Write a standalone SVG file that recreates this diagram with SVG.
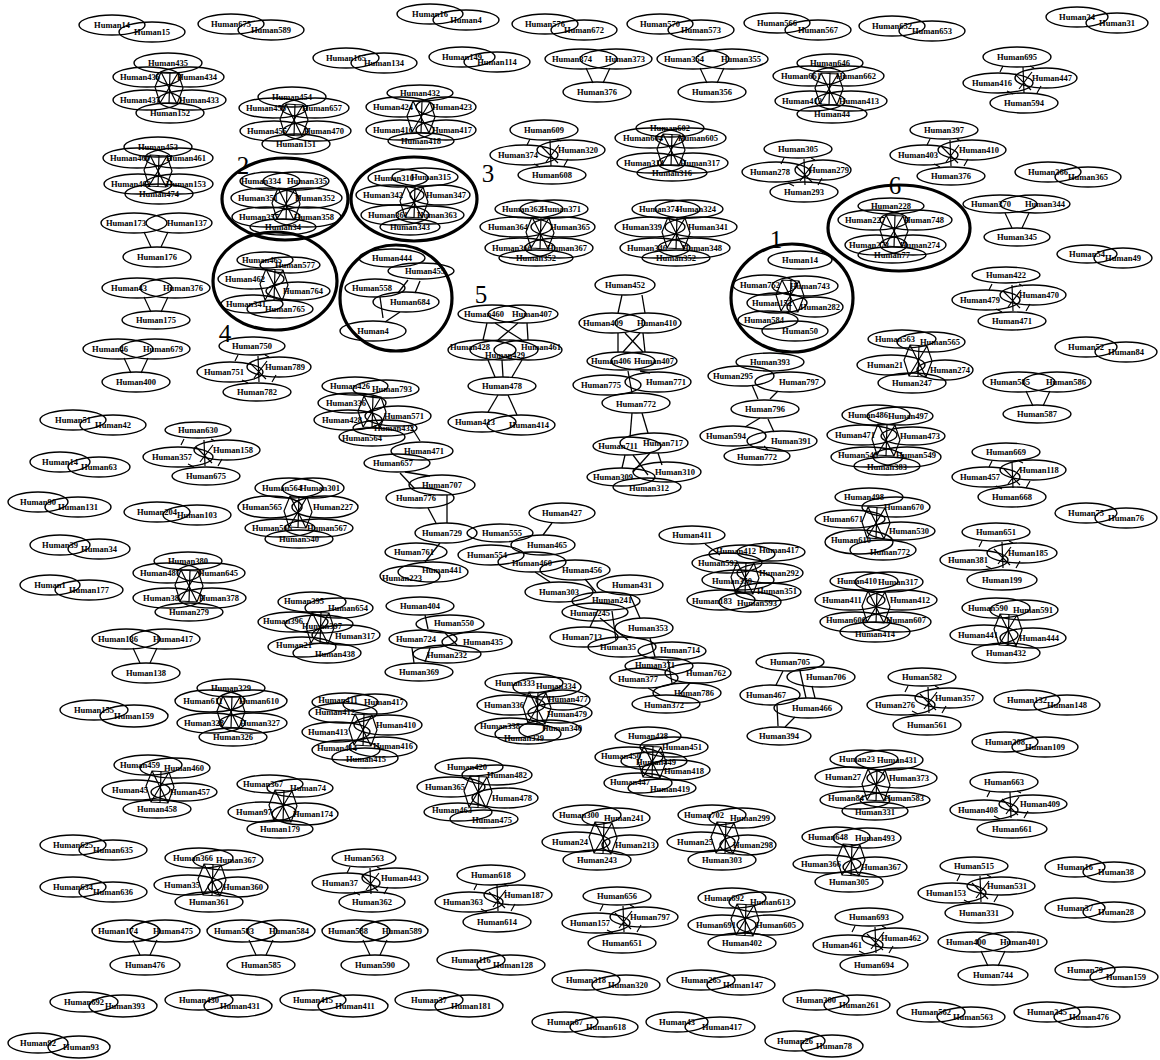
<svg xmlns="http://www.w3.org/2000/svg" xmlns:xlink="http://www.w3.org/1999/xlink" width="1160" height="1060" viewBox="0 0 1160 1060">
<style>
.n ellipse{fill:none;stroke:#000;stroke-width:1.4}
.n text{font-family:"Liberation Serif","Times New Roman",serif;font-size:8.5px;font-weight:bold;text-anchor:middle;fill:#000}
.e{fill:none;stroke:#000;stroke-width:1.2}
#connectors line{stroke:#000;stroke-width:1.3}
.ring{fill:none;stroke:#000;stroke-width:3.2}
.num{font-family:"Liberation Serif","Times New Roman",serif;font-size:25px;fill:#000;text-anchor:middle}
</style>
<defs>
<path id="tri" class="e" d="M-12,9 L-5,24 M12,9 L5,24"/>
<path id="dia" class="e" d="M-14,9 L-17,15 M13,9 L17,11 M6,10 L7,36 M-10,34 L-4,37 M24,29 L20,36 M-2,17 L14,33 M15,15 L2,32"/>
<path id="hub" class="e" d="M-8,-16 L9,-15 L14,0 L8,16 L-9,15 L-14,-1 Z M-8,-16 L8,16 M9,-15 L-9,15 M1,-16 L0,16"/>
</defs>
<rect width="1160" height="1060" fill="#fff"/>
<g id="connectors">
<use href="#tri" x="598" y="59"/><use href="#tri" x="712" y="59"/><use href="#tri" x="156" y="223"/><use href="#tri" x="156" y="288"/><use href="#tri" x="136" y="349"/><use href="#tri" x="1017" y="204"/><use href="#tri" x="1038" y="382"/><use href="#tri" x="145" y="639"/><use href="#tri" x="145" y="931"/><use href="#tri" x="261" y="931"/><use href="#tri" x="375" y="931"/><use href="#tri" x="993" y="942"/>
<use href="#dia" x="544" y="130"/><use href="#dia" x="1017" y="57"/><use href="#dia" x="798" y="149"/><use href="#dia" x="944" y="130"/><use href="#dia" x="252" y="346"/><use href="#dia" x="198" y="430"/><use href="#dia" x="922" y="677"/><use href="#dia" x="1004" y="782"/><use href="#dia" x="996" y="532"/><use href="#dia" x="1006" y="275"/><use href="#dia" x="1006" y="452"/><use href="#dia" x="364" y="858"/><use href="#dia" x="491" y="875"/><use href="#dia" x="617" y="896"/><use href="#dia" x="974" y="866"/><use href="#dia" x="869" y="917"/>
<use href="#hub" x="169" y="88"/><use href="#hub" x="294" y="120"/><use href="#hub" x="158" y="171"/><use href="#hub" x="421" y="117"/><use href="#hub" x="671" y="150"/><use href="#hub" x="540" y="233"/><use href="#hub" x="676" y="233"/><use href="#hub" x="829" y="89"/><use href="#hub" x="189" y="586"/><use href="#hub" x="231" y="712"/><use href="#hub" x="286" y="204"/><use href="#hub" x="414" y="202"/><use href="#hub" x="894" y="231"/><use href="#hub" x="274" y="285"/><use href="#hub" x="790" y="296"/><use href="#hub" x="298" y="512"/><use href="#hub" x="745" y="578"/><use href="#hub" x="537" y="708"/><use href="#hub" x="876" y="607"/><use href="#hub" x="876" y="523"/><use href="#hub" x="886" y="440"/><use href="#hub" x="363" y="730"/><use href="#hub" x="876" y="785"/><use href="#hub" x="320" y="628"/><use href="#hub" x="652" y="762"/><use href="#hub" x="160" y="787"/><use href="#hub" x="283" y="806"/><use href="#hub" x="372" y="412"/><use href="#hub" x="1008" y="630"/><use href="#hub" x="918" y="361"/><use href="#hub" x="851" y="860"/><use href="#hub" x="212" y="880"/><use href="#hub" x="603" y="838"/><use href="#hub" x="725" y="838"/><use href="#hub" x="745" y="920"/><use href="#hub" x="478" y="792"/>
<line x1="487" y1="323" x2="483" y2="340"/><line x1="527" y1="323" x2="528" y2="340"/><line x1="495" y1="323" x2="522" y2="340"/><line x1="518" y1="323" x2="498" y2="340"/><line x1="488" y1="360" x2="495" y2="377"/><line x1="502" y1="360" x2="503" y2="377"/><line x1="522" y1="360" x2="512" y2="377"/><line x1="498" y1="395" x2="488" y2="412"/><line x1="508" y1="395" x2="517" y2="415"/>
<line x1="622" y1="295" x2="618" y2="313"/><line x1="642" y1="295" x2="645" y2="313"/><line x1="618" y1="333" x2="618" y2="352"/><line x1="643" y1="333" x2="645" y2="352"/><line x1="625" y1="333" x2="643" y2="352"/><line x1="640" y1="333" x2="623" y2="352"/><line x1="628" y1="371" x2="632" y2="393"/><line x1="640" y1="371" x2="650" y2="373"/><line x1="632" y1="413" x2="630" y2="437"/><line x1="642" y1="413" x2="648" y2="433"/><line x1="625" y1="455" x2="622" y2="468"/><line x1="633" y1="455" x2="648" y2="475"/><line x1="650" y1="453" x2="633" y2="472"/><line x1="658" y1="453" x2="662" y2="465"/>
<line x1="410" y1="425" x2="420" y2="441"/><line x1="405" y1="472" x2="430" y2="476"/><line x1="400" y1="473" x2="415" y2="489"/><line x1="428" y1="508" x2="436" y2="523"/><line x1="447" y1="495" x2="447" y2="523"/>
<line x1="552" y1="523" x2="543" y2="535"/><line x1="440" y1="543" x2="425" y2="562"/><line x1="535" y1="572" x2="550" y2="582"/><line x1="585" y1="579" x2="596" y2="592"/><line x1="598" y1="610" x2="590" y2="627"/><line x1="612" y1="611" x2="616" y2="640"/><line x1="630" y1="595" x2="640" y2="618"/><line x1="600" y1="618" x2="628" y2="640"/><line x1="650" y1="638" x2="655" y2="657"/><line x1="668" y1="660" x2="672" y2="683"/><line x1="648" y1="688" x2="660" y2="695"/><line x1="690" y1="683" x2="680" y2="694"/>
<line x1="705" y1="544" x2="720" y2="555"/>
<line x1="425" y1="615" x2="428" y2="629"/><line x1="445" y1="633" x2="457" y2="645"/><line x1="430" y1="648" x2="425" y2="662"/><line x1="412" y1="648" x2="414" y2="663"/>
<line x1="800" y1="671" x2="806" y2="698"/><line x1="812" y1="686" x2="815" y2="698"/><line x1="783" y1="671" x2="776" y2="685"/><line x1="777" y1="705" x2="778" y2="726"/><line x1="795" y1="717" x2="785" y2="727"/>
<line x1="752" y1="385" x2="758" y2="399"/><line x1="778" y1="391" x2="770" y2="399"/><line x1="760" y1="418" x2="745" y2="427"/><line x1="768" y1="419" x2="774" y2="432"/><line x1="768" y1="450" x2="764" y2="446"/>
<line x1="408" y1="280" x2="398" y2="293"/><line x1="380" y1="297" x2="383" y2="318"/><line x1="400" y1="312" x2="385" y2="322"/><line x1="420" y1="281" x2="415" y2="293"/>
</g>
<g id="nodes">
<g id="c1a" class="n"><ellipse cx="112" cy="25" rx="33" ry="10"/><text x="112" y="28">Human14</text></g>
<g id="c1b" class="n"><ellipse cx="152" cy="32" rx="33" ry="10"/><text x="152" y="35">Human15</text></g>
<g id="c2a" class="n"><ellipse cx="231" cy="24" rx="33" ry="10"/><text x="231" y="27">Human675</text></g>
<g id="c2b" class="n"><ellipse cx="271" cy="30" rx="33" ry="10"/><text x="271" y="33">Human589</text></g>
<g id="c3a" class="n"><ellipse cx="346" cy="58" rx="33" ry="10"/><text x="346" y="61">Human165</text></g>
<g id="c3b" class="n"><ellipse cx="384" cy="63" rx="33" ry="10"/><text x="384" y="66">Human134</text></g>
<g id="c4a" class="n"><ellipse cx="430" cy="14" rx="33" ry="10"/><text x="430" y="17">Human16</text></g>
<g id="c4b" class="n"><ellipse cx="466" cy="20" rx="33" ry="10"/><text x="466" y="23">Human4</text></g>
<g id="c5a" class="n"><ellipse cx="462" cy="57" rx="33" ry="10"/><text x="462" y="60">Human149</text></g>
<g id="c5b" class="n"><ellipse cx="497" cy="62" rx="33" ry="10"/><text x="497" y="65">Human114</text></g>
<g id="c6a" class="n"><ellipse cx="545" cy="24" rx="33" ry="10"/><text x="545" y="27">Human576</text></g>
<g id="c6b" class="n"><ellipse cx="584" cy="30" rx="33" ry="10"/><text x="584" y="33">Human672</text></g>
<g id="c7a" class="n"><ellipse cx="660" cy="24" rx="33" ry="10"/><text x="660" y="27">Human570</text></g>
<g id="c7b" class="n"><ellipse cx="701" cy="30" rx="33" ry="10"/><text x="701" y="33">Human573</text></g>
<g id="c8a" class="n"><ellipse cx="777" cy="23" rx="33" ry="10"/><text x="777" y="26">Human566</text></g>
<g id="c8b" class="n"><ellipse cx="818" cy="30" rx="33" ry="10"/><text x="818" y="33">Human567</text></g>
<g id="c9a" class="n"><ellipse cx="892" cy="26" rx="33" ry="10"/><text x="892" y="29">Human652</text></g>
<g id="c9b" class="n"><ellipse cx="932" cy="31" rx="33" ry="10"/><text x="932" y="34">Human653</text></g>
<g id="c10a" class="n"><ellipse cx="1077" cy="17" rx="31" ry="10"/><text x="1077" y="20">Human34</text></g>
<g id="c10b" class="n"><ellipse cx="1117" cy="23" rx="31" ry="10"/><text x="1117" y="26">Human31</text></g>
<g id="c11a" class="n"><ellipse cx="581" cy="59" rx="36" ry="10"/><text x="572" y="62">Human374</text></g>
<g id="c11b" class="n"><ellipse cx="616" cy="59" rx="36" ry="10"/><text x="625" y="62">Human373</text></g>
<g id="c11c" class="n"><ellipse cx="597" cy="92" rx="34" ry="10"/><text x="597" y="95">Human376</text></g>
<g id="c12a" class="n"><ellipse cx="693" cy="59" rx="36" ry="10"/><text x="684" y="62">Human354</text></g>
<g id="c12b" class="n"><ellipse cx="732" cy="59" rx="36" ry="10"/><text x="741" y="62">Human355</text></g>
<g id="c12c" class="n"><ellipse cx="712" cy="92" rx="34" ry="10"/><text x="712" y="95">Human356</text></g>
<g id="c13a" class="n"><ellipse cx="168" cy="63" rx="34" ry="10"/><text x="168" y="66">Human435</text></g>
<g id="c13b" class="n"><ellipse cx="147" cy="77" rx="34" ry="10"/><text x="140" y="80">Human436</text></g>
<g id="c13c" class="n"><ellipse cx="190" cy="77" rx="34" ry="10"/><text x="197" y="80">Human434</text></g>
<g id="c13d" class="n"><ellipse cx="147" cy="100" rx="34" ry="10"/><text x="140" y="103">Human437</text></g>
<g id="c13e" class="n"><ellipse cx="192" cy="100" rx="34" ry="10"/><text x="199" y="103">Human433</text></g>
<g id="c13f" class="n"><ellipse cx="170" cy="113" rx="34" ry="10"/><text x="170" y="116">Human152</text></g>
<g id="c14a" class="n"><ellipse cx="292" cy="97" rx="34" ry="10"/><text x="292" y="100">Human454</text></g>
<g id="c14b" class="n"><ellipse cx="273" cy="108" rx="34" ry="10"/><text x="266" y="111">Human456</text></g>
<g id="c14c" class="n"><ellipse cx="315" cy="108" rx="34" ry="10"/><text x="322" y="111">Human657</text></g>
<g id="c14d" class="n"><ellipse cx="274" cy="131" rx="34" ry="10"/><text x="267" y="134">Human455</text></g>
<g id="c14e" class="n"><ellipse cx="317" cy="131" rx="34" ry="10"/><text x="324" y="134">Human470</text></g>
<g id="c14f" class="n"><ellipse cx="296" cy="144" rx="34" ry="10"/><text x="296" y="147">Human151</text></g>
<g id="c15a" class="n"><ellipse cx="158" cy="147" rx="34" ry="10"/><text x="158" y="150">Human453</text></g>
<g id="c15b" class="n"><ellipse cx="137" cy="158" rx="34" ry="10"/><text x="130" y="161">Human460</text></g>
<g id="c15c" class="n"><ellipse cx="179" cy="158" rx="34" ry="10"/><text x="186" y="161">Human461</text></g>
<g id="c15d" class="n"><ellipse cx="138" cy="184" rx="34" ry="10"/><text x="131" y="187">Human462</text></g>
<g id="c15e" class="n"><ellipse cx="179" cy="184" rx="34" ry="10"/><text x="186" y="187">Human153</text></g>
<g id="c15f" class="n"><ellipse cx="159" cy="194" rx="34" ry="10"/><text x="159" y="197">Human474</text></g>
<g id="c16a" class="n"><ellipse cx="134" cy="223" rx="33" ry="10"/><text x="126" y="226">Human173</text></g>
<g id="c16b" class="n"><ellipse cx="179" cy="223" rx="33" ry="10"/><text x="187" y="226">Human137</text></g>
<g id="c16c" class="n"><ellipse cx="157" cy="257" rx="34" ry="10"/><text x="157" y="260">Human176</text></g>
<g id="c17a" class="n"><ellipse cx="137" cy="288" rx="35" ry="10"/><text x="129" y="291">Human43</text></g>
<g id="c17b" class="n"><ellipse cx="175" cy="288" rx="35" ry="10"/><text x="183" y="291">Human376</text></g>
<g id="c17c" class="n"><ellipse cx="156" cy="320" rx="34" ry="9"/><text x="156" y="323">Human175</text></g>
<g id="c18a" class="n"><ellipse cx="118" cy="349" rx="35" ry="10"/><text x="110" y="352">Human46</text></g>
<g id="c18b" class="n"><ellipse cx="155" cy="349" rx="35" ry="10"/><text x="163" y="352">Human679</text></g>
<g id="c18c" class="n"><ellipse cx="136" cy="382" rx="34" ry="10"/><text x="136" y="385">Human400</text></g>
<g id="c19a" class="n"><ellipse cx="270" cy="181" rx="30" ry="9"/><text x="261" y="184">Human334</text></g>
<g id="c19b" class="n"><ellipse cx="296" cy="181" rx="33" ry="9"/><text x="307" y="184">Human335</text></g>
<g id="c19c" class="n"><ellipse cx="265" cy="198" rx="34" ry="10"/><text x="258" y="201">Human351</text></g>
<g id="c19d" class="n"><ellipse cx="308" cy="198" rx="34" ry="10"/><text x="315" y="201">Human352</text></g>
<g id="c19e" class="n"><ellipse cx="266" cy="217" rx="34" ry="10"/><text x="259" y="220">Human357</text></g>
<g id="c19f" class="n"><ellipse cx="307" cy="217" rx="34" ry="10"/><text x="314" y="220">Human358</text></g>
<g id="c19g" class="n"><ellipse cx="283" cy="227" rx="33" ry="8"/><text x="283" y="230">Human34</text></g>
<g id="c20a" class="n"><ellipse cx="398" cy="178" rx="30" ry="9"/><text x="394" y="181">Human310</text></g>
<g id="c20b" class="n"><ellipse cx="425" cy="177" rx="33" ry="9"/><text x="431" y="180">Human315</text></g>
<g id="c20c" class="n"><ellipse cx="390" cy="195" rx="34" ry="10"/><text x="383" y="198">Human342</text></g>
<g id="c20d" class="n"><ellipse cx="440" cy="195" rx="30" ry="10"/><text x="446" y="198">Human347</text></g>
<g id="c20e" class="n"><ellipse cx="395" cy="215" rx="34" ry="10"/><text x="388" y="218">Human361</text></g>
<g id="c20f" class="n"><ellipse cx="430" cy="215" rx="34" ry="9"/><text x="437" y="218">Human363</text></g>
<g id="c20g" class="n"><ellipse cx="410" cy="227" rx="30" ry="8"/><text x="410" y="230">Human343</text></g>
<g id="c21a" class="n"><ellipse cx="420" cy="93" rx="33" ry="8"/><text x="420" y="96">Human432</text></g>
<g id="c21b" class="n"><ellipse cx="400" cy="107" rx="34" ry="10"/><text x="393" y="110">Human424</text></g>
<g id="c21c" class="n"><ellipse cx="446" cy="107" rx="30" ry="10"/><text x="452" y="110">Human423</text></g>
<g id="c21d" class="n"><ellipse cx="400" cy="130" rx="34" ry="10"/><text x="393" y="133">Human416</text></g>
<g id="c21e" class="n"><ellipse cx="446" cy="130" rx="30" ry="10"/><text x="452" y="133">Human417</text></g>
<g id="c21f" class="n"><ellipse cx="421" cy="141" rx="33" ry="8"/><text x="421" y="144">Human418</text></g>
<g id="c22a" class="n"><ellipse cx="544" cy="130" rx="34" ry="10"/><text x="544" y="133">Human609</text></g>
<g id="c22b" class="n"><ellipse cx="524" cy="155" rx="34" ry="10"/><text x="518" y="158">Human374</text></g>
<g id="c22c" class="n"><ellipse cx="571" cy="150" rx="34" ry="10"/><text x="578" y="153">Human320</text></g>
<g id="c22d" class="n"><ellipse cx="552" cy="175" rx="34" ry="9"/><text x="552" y="178">Human608</text></g>
<g id="c23a" class="n"><ellipse cx="670" cy="128" rx="34" ry="9"/><text x="670" y="131">Human602</text></g>
<g id="c23b" class="n"><ellipse cx="650" cy="138" rx="35" ry="10"/><text x="643" y="141">Human604</text></g>
<g id="c23c" class="n"><ellipse cx="691" cy="138" rx="35" ry="10"/><text x="698" y="141">Human605</text></g>
<g id="c23d" class="n"><ellipse cx="651" cy="163" rx="34" ry="10"/><text x="644" y="166">Human314</text></g>
<g id="c23e" class="n"><ellipse cx="693" cy="163" rx="35" ry="10"/><text x="700" y="166">Human317</text></g>
<g id="c23f" class="n"><ellipse cx="672" cy="173" rx="35" ry="8"/><text x="672" y="176">Human316</text></g>
<g id="c24a" class="n"><ellipse cx="529" cy="209" rx="34" ry="9"/><text x="522" y="212">Human362</text></g>
<g id="c24b" class="n"><ellipse cx="554" cy="209" rx="34" ry="9"/><text x="561" y="212">Human371</text></g>
<g id="c24c" class="n"><ellipse cx="516" cy="227" rx="36" ry="10"/><text x="508" y="230">Human364</text></g>
<g id="c24d" class="n"><ellipse cx="563" cy="227" rx="32" ry="10"/><text x="570" y="230">Human365</text></g>
<g id="c24e" class="n"><ellipse cx="520" cy="248" rx="35" ry="10"/><text x="512" y="251">Human366</text></g>
<g id="c24f" class="n"><ellipse cx="559" cy="248" rx="34" ry="10"/><text x="567" y="251">Human367</text></g>
<g id="c24g" class="n"><ellipse cx="536" cy="258" rx="37" ry="8"/><text x="536" y="261">Human352</text></g>
<g id="c25a" class="n"><ellipse cx="666" cy="209" rx="34" ry="9"/><text x="659" y="212">Human374</text></g>
<g id="c25b" class="n"><ellipse cx="689" cy="209" rx="34" ry="9"/><text x="696" y="212">Human324</text></g>
<g id="c25c" class="n"><ellipse cx="650" cy="227" rx="35" ry="10"/><text x="642" y="230">Human339</text></g>
<g id="c25d" class="n"><ellipse cx="701" cy="227" rx="36" ry="10"/><text x="708" y="230">Human341</text></g>
<g id="c25e" class="n"><ellipse cx="655" cy="248" rx="35" ry="10"/><text x="647" y="251">Human346</text></g>
<g id="c25f" class="n"><ellipse cx="694" cy="248" rx="36" ry="10"/><text x="702" y="251">Human348</text></g>
<g id="c25g" class="n"><ellipse cx="676" cy="258" rx="34" ry="8"/><text x="676" y="261">Human352</text></g>
<g id="c26a" class="n"><ellipse cx="830" cy="63" rx="33" ry="9"/><text x="830" y="66">Human646</text></g>
<g id="c26b" class="n"><ellipse cx="809" cy="76" rx="36" ry="10"/><text x="801" y="79">Human661</text></g>
<g id="c26c" class="n"><ellipse cx="848" cy="76" rx="36" ry="10"/><text x="856" y="79">Human662</text></g>
<g id="c26d" class="n"><ellipse cx="810" cy="101" rx="35" ry="10"/><text x="802" y="104">Human412</text></g>
<g id="c26e" class="n"><ellipse cx="851" cy="101" rx="36" ry="10"/><text x="859" y="104">Human413</text></g>
<g id="c26f" class="n"><ellipse cx="832" cy="114" rx="35" ry="9"/><text x="832" y="117">Human44</text></g>
<g id="c27a" class="n"><ellipse cx="1017" cy="57" rx="34" ry="10"/><text x="1017" y="60">Human695</text></g>
<g id="c27b" class="n"><ellipse cx="998" cy="83" rx="35" ry="10"/><text x="992" y="86">Human416</text></g>
<g id="c27c" class="n"><ellipse cx="1046" cy="78" rx="31" ry="10"/><text x="1052" y="81">Human447</text></g>
<g id="c27d" class="n"><ellipse cx="1024" cy="103" rx="34" ry="10"/><text x="1024" y="106">Human594</text></g>
<g id="c28a" class="n"><ellipse cx="798" cy="149" rx="34" ry="9"/><text x="798" y="152">Human305</text></g>
<g id="c28b" class="n"><ellipse cx="776" cy="172" rx="34" ry="10"/><text x="770" y="175">Human278</text></g>
<g id="c28c" class="n"><ellipse cx="823" cy="170" rx="28" ry="10"/><text x="829" y="173">Human279</text></g>
<g id="c28d" class="n"><ellipse cx="804" cy="192" rx="34" ry="10"/><text x="804" y="195">Human293</text></g>
<g id="c29a" class="n"><ellipse cx="944" cy="130" rx="34" ry="9"/><text x="944" y="133">Human397</text></g>
<g id="c29b" class="n"><ellipse cx="924" cy="155" rx="34" ry="10"/><text x="918" y="158">Human403</text></g>
<g id="c29c" class="n"><ellipse cx="972" cy="150" rx="34" ry="10"/><text x="979" y="153">Human410</text></g>
<g id="c29d" class="n"><ellipse cx="951" cy="176" rx="34" ry="9"/><text x="951" y="179">Human376</text></g>
<g id="c30a" class="n"><ellipse cx="1048" cy="172" rx="33" ry="10"/><text x="1048" y="175">Human366</text></g>
<g id="c30b" class="n"><ellipse cx="1088" cy="177" rx="33" ry="10"/><text x="1088" y="180">Human365</text></g>
<g id="c31a" class="n"><ellipse cx="1000" cy="204" rx="37" ry="9"/><text x="991" y="207">Human370</text></g>
<g id="c31b" class="n"><ellipse cx="1035" cy="204" rx="35" ry="9"/><text x="1045" y="207">Human344</text></g>
<g id="c31c" class="n"><ellipse cx="1017" cy="237" rx="33" ry="9"/><text x="1017" y="240">Human345</text></g>
<g id="c32a" class="n"><ellipse cx="1087" cy="254" rx="30" ry="9"/><text x="1087" y="257">Human54</text></g>
<g id="c32b" class="n"><ellipse cx="1123" cy="258" rx="29" ry="10"/><text x="1123" y="261">Human49</text></g>
<g id="c33a" class="n"><ellipse cx="891" cy="206" rx="33" ry="8"/><text x="891" y="209">Human228</text></g>
<g id="c33b" class="n"><ellipse cx="873" cy="220" rx="35" ry="10"/><text x="865" y="223">Human227</text></g>
<g id="c33c" class="n"><ellipse cx="916" cy="220" rx="36" ry="10"/><text x="924" y="223">Human748</text></g>
<g id="c33d" class="n"><ellipse cx="876" cy="245" rx="31" ry="10"/><text x="869" y="248">Human273</text></g>
<g id="c33e" class="n"><ellipse cx="913" cy="245" rx="33" ry="10"/><text x="920" y="248">Human274</text></g>
<g id="c33f" class="n"><ellipse cx="892" cy="255" rx="34" ry="8"/><text x="892" y="258">Human77</text></g>
<g id="c34a" class="n"><ellipse cx="800" cy="260" rx="32" ry="9"/><text x="800" y="263">Human14</text></g>
<g id="c34b" class="n"><ellipse cx="765" cy="285" rx="32" ry="10"/><text x="760" y="288">Human752</text></g>
<g id="c34c" class="n"><ellipse cx="805" cy="286" rx="33" ry="10"/><text x="810" y="289">Human743</text></g>
<g id="c34d" class="n"><ellipse cx="777" cy="303" rx="30" ry="10"/><text x="772" y="306">Human152</text></g>
<g id="c34e" class="n"><ellipse cx="815" cy="307" rx="28" ry="10"/><text x="820" y="310">Human282</text></g>
<g id="c34f" class="n"><ellipse cx="768" cy="320" rx="30" ry="9"/><text x="764" y="323">Human584</text></g>
<g id="c34g" class="n"><ellipse cx="795" cy="331" rx="33" ry="10"/><text x="800" y="334">Human50</text></g>
<g id="c36a" class="n"><ellipse cx="265" cy="260" rx="28" ry="8"/><text x="262" y="263">Human465</text></g>
<g id="c36b" class="n"><ellipse cx="290" cy="265" rx="30" ry="8"/><text x="295" y="268">Human577</text></g>
<g id="c36c" class="n"><ellipse cx="251" cy="279" rx="33" ry="10"/><text x="245" y="282">Human462</text></g>
<g id="c36d" class="n"><ellipse cx="298" cy="291" rx="32" ry="9"/><text x="303" y="294">Human764</text></g>
<g id="c36e" class="n"><ellipse cx="252" cy="304" rx="31" ry="9"/><text x="246" y="307">Human341</text></g>
<g id="c36f" class="n"><ellipse cx="280" cy="309" rx="33" ry="9"/><text x="285" y="312">Human765</text></g>
<g id="c37a" class="n"><ellipse cx="392" cy="258" rx="33" ry="9"/><text x="392" y="261">Human444</text></g>
<g id="c37b" class="n"><ellipse cx="421" cy="271" rx="33" ry="8"/><text x="425" y="274">Human455</text></g>
<g id="c37c" class="n"><ellipse cx="375" cy="288" rx="30" ry="9"/><text x="372" y="291">Human558</text></g>
<g id="c37d" class="n"><ellipse cx="406" cy="302" rx="33" ry="10"/><text x="410" y="305">Human684</text></g>
<g id="c37e" class="n"><ellipse cx="373" cy="331" rx="33" ry="10"/><text x="373" y="334">Human4</text></g>
<g id="c38a" class="n"><ellipse cx="252" cy="346" rx="33" ry="9"/><text x="252" y="349">Human750</text></g>
<g id="c38b" class="n"><ellipse cx="230" cy="372" rx="33" ry="10"/><text x="224" y="375">Human751</text></g>
<g id="c38c" class="n"><ellipse cx="279" cy="367" rx="32" ry="10"/><text x="285" y="370">Human789</text></g>
<g id="c38d" class="n"><ellipse cx="257" cy="392" rx="34" ry="9"/><text x="257" y="395">Human782</text></g>
<g id="c39a" class="n"><ellipse cx="73" cy="420" rx="33" ry="10"/><text x="73" y="423">Human51</text></g>
<g id="c39b" class="n"><ellipse cx="113" cy="425" rx="33" ry="10"/><text x="113" y="428">Human42</text></g>
<g id="c40a" class="n"><ellipse cx="198" cy="430" rx="33" ry="8"/><text x="198" y="433">Human630</text></g>
<g id="c40b" class="n"><ellipse cx="178" cy="457" rx="35" ry="10"/><text x="172" y="460">Human357</text></g>
<g id="c40c" class="n"><ellipse cx="227" cy="450" rx="33" ry="10"/><text x="233" y="453">Human158</text></g>
<g id="c40d" class="n"><ellipse cx="206" cy="476" rx="34" ry="9"/><text x="206" y="479">Human675</text></g>
<g id="c41a" class="n"><ellipse cx="60" cy="462" rx="30" ry="10"/><text x="60" y="465">Human14</text></g>
<g id="c41b" class="n"><ellipse cx="99" cy="467" rx="31" ry="10"/><text x="99" y="470">Human63</text></g>
<g id="c42a" class="n"><ellipse cx="38" cy="502" rx="30" ry="10"/><text x="38" y="505">Human90</text></g>
<g id="c42b" class="n"><ellipse cx="78" cy="507" rx="33" ry="10"/><text x="78" y="510">Human131</text></g>
<g id="c43a" class="n"><ellipse cx="157" cy="512" rx="33" ry="10"/><text x="157" y="515">Human204</text></g>
<g id="c43b" class="n"><ellipse cx="197" cy="515" rx="34" ry="10"/><text x="197" y="518">Human103</text></g>
<g id="c44a" class="n"><ellipse cx="289" cy="488" rx="34" ry="10"/><text x="282" y="491">Human564</text></g>
<g id="c44b" class="n"><ellipse cx="313" cy="488" rx="31" ry="10"/><text x="320" y="491">Human301</text></g>
<g id="c44c" class="n"><ellipse cx="270" cy="507" rx="32" ry="11"/><text x="262" y="510">Human565</text></g>
<g id="c44d" class="n"><ellipse cx="325" cy="507" rx="33" ry="11"/><text x="333" y="510">Human227</text></g>
<g id="c44e" class="n"><ellipse cx="280" cy="528" rx="35" ry="9"/><text x="272" y="531">Human566</text></g>
<g id="c44f" class="n"><ellipse cx="319" cy="528" rx="34" ry="9"/><text x="327" y="531">Human567</text></g>
<g id="c44g" class="n"><ellipse cx="299" cy="539" rx="34" ry="9"/><text x="299" y="542">Human540</text></g>
<g id="c45a" class="n"><ellipse cx="355" cy="386" rx="33" ry="9"/><text x="350" y="389">Human426</text></g>
<g id="c45b" class="n"><ellipse cx="386" cy="389" rx="33" ry="9"/><text x="392" y="392">Human793</text></g>
<g id="c45c" class="n"><ellipse cx="352" cy="403" rx="34" ry="10"/><text x="346" y="406">Human336</text></g>
<g id="c45d" class="n"><ellipse cx="398" cy="416" rx="33" ry="10"/><text x="404" y="419">Human571</text></g>
<g id="c45e" class="n"><ellipse cx="348" cy="420" rx="34" ry="10"/><text x="342" y="423">Human428</text></g>
<g id="c45f" class="n"><ellipse cx="385" cy="428" rx="32" ry="8"/><text x="394" y="431">Human432</text></g>
<g id="c45g" class="n"><ellipse cx="372" cy="437" rx="33" ry="9"/><text x="362" y="441">Human564</text></g>
<g id="c45h" class="n"><ellipse cx="422" cy="451" rx="31" ry="9"/><text x="424" y="454">Human471</text></g>
<g id="c45i" class="n"><ellipse cx="397" cy="463" rx="33" ry="9"/><text x="393" y="466">Human657</text></g>
<g id="c45j" class="n"><ellipse cx="442" cy="485" rx="33" ry="10"/><text x="442" y="488">Human707</text></g>
<g id="c45k" class="n"><ellipse cx="420" cy="498" rx="34" ry="10"/><text x="416" y="501">Human776</text></g>
<g id="c46a" class="n"><ellipse cx="446" cy="533" rx="31" ry="10"/><text x="442" y="536">Human729</text></g>
<g id="c46b" class="n"><ellipse cx="500" cy="533" rx="33" ry="9"/><text x="502" y="536">Human555</text></g>
<g id="c46c" class="n"><ellipse cx="562" cy="513" rx="33" ry="10"/><text x="562" y="516">Human427</text></g>
<g id="c46d" class="n"><ellipse cx="416" cy="552" rx="31" ry="9"/><text x="414" y="555">Human761</text></g>
<g id="c46e" class="n"><ellipse cx="433" cy="572" rx="35" ry="10"/><text x="442" y="573">Human441</text></g>
<g id="c46f" class="n"><ellipse cx="410" cy="576" rx="30" ry="10"/><text x="402" y="581">Human223</text></g>
<g id="c46g" class="n"><ellipse cx="543" cy="545" rx="32" ry="10"/><text x="547" y="548">Human465</text></g>
<g id="c46h" class="n"><ellipse cx="491" cy="555" rx="33" ry="10"/><text x="487" y="558">Human554</text></g>
<g id="c46i" class="n"><ellipse cx="532" cy="562" rx="34" ry="10"/><text x="532" y="566">Human460</text></g>
<g id="c46j" class="n"><ellipse cx="575" cy="570" rx="35" ry="10"/><text x="582" y="573">Human456</text></g>
<g id="c46k" class="n"><ellipse cx="559" cy="592" rx="34" ry="10"/><text x="559" y="595">Human303</text></g>
<g id="c46l" class="n"><ellipse cx="630" cy="585" rx="33" ry="10"/><text x="632" y="588">Human431</text></g>
<g id="c46m" class="n"><ellipse cx="606" cy="601" rx="34" ry="9"/><text x="612" y="603">Human241</text></g>
<g id="c46n" class="n"><ellipse cx="595" cy="612" rx="33" ry="9"/><text x="590" y="616">Human245</text></g>
<g id="c46o" class="n"><ellipse cx="584" cy="637" rx="34" ry="10"/><text x="582" y="640">Human713</text></g>
<g id="c46p" class="n"><ellipse cx="644" cy="628" rx="29" ry="10"/><text x="648" y="631">Human353</text></g>
<g id="c46q" class="n"><ellipse cx="622" cy="647" rx="34" ry="10"/><text x="618" y="650">Human35</text></g>
<g id="c46r" class="n"><ellipse cx="672" cy="651" rx="34" ry="9"/><text x="680" y="653">Human714</text></g>
<g id="c46s" class="n"><ellipse cx="659" cy="666" rx="34" ry="9"/><text x="655" y="668">Human371</text></g>
<g id="c46t" class="n"><ellipse cx="698" cy="673" rx="33" ry="10"/><text x="706" y="676">Human762</text></g>
<g id="c46u" class="n"><ellipse cx="644" cy="678" rx="34" ry="10"/><text x="638" y="682">Human377</text></g>
<g id="c46v" class="n"><ellipse cx="687" cy="693" rx="34" ry="10"/><text x="694" y="696">Human786</text></g>
<g id="c46w" class="n"><ellipse cx="666" cy="704" rx="34" ry="9"/><text x="664" y="708">Human372</text></g>
<g id="c47a" class="n"><ellipse cx="692" cy="535" rx="33" ry="9"/><text x="692" y="538">Human411</text></g>
<g id="c47b" class="n"><ellipse cx="742" cy="554" rx="33" ry="9"/><text x="736" y="554">Human412</text></g>
<g id="c47c" class="n"><ellipse cx="771" cy="552" rx="34" ry="9"/><text x="779" y="553">Human417</text></g>
<g id="c47d" class="n"><ellipse cx="727" cy="563" rx="35" ry="10"/><text x="718" y="566">Human592</text></g>
<g id="c47e" class="n"><ellipse cx="770" cy="573" rx="33" ry="10"/><text x="779" y="576">Human292</text></g>
<g id="c47f" class="n"><ellipse cx="738" cy="580" rx="36" ry="10"/><text x="732" y="584">Human350</text></g>
<g id="c47g" class="n"><ellipse cx="768" cy="592" rx="33" ry="9"/><text x="777" y="594">Human351</text></g>
<g id="c47h" class="n"><ellipse cx="721" cy="600" rx="34" ry="10"/><text x="712" y="604">Human183</text></g>
<g id="c47i" class="n"><ellipse cx="750" cy="602" rx="31" ry="10"/><text x="757" y="606">Human593</text></g>
<g id="c48a" class="n"><ellipse cx="420" cy="606" rx="34" ry="9"/><text x="420" y="609">Human404</text></g>
<g id="c48b" class="n"><ellipse cx="450" cy="624" rx="34" ry="9"/><text x="454" y="626">Human550</text></g>
<g id="c48c" class="n"><ellipse cx="423" cy="639" rx="34" ry="9"/><text x="416" y="642">Human724</text></g>
<g id="c48d" class="n"><ellipse cx="477" cy="642" rx="35" ry="10"/><text x="483" y="645">Human435</text></g>
<g id="c48e" class="n"><ellipse cx="447" cy="654" rx="34" ry="9"/><text x="447" y="658">Human232</text></g>
<g id="c48f" class="n"><ellipse cx="419" cy="672" rx="34" ry="9"/><text x="419" y="675">Human369</text></g>
<g id="c49a" class="n"><ellipse cx="524" cy="683" rx="39" ry="10"/><text x="515" y="686">Human333</text></g>
<g id="c49b" class="n"><ellipse cx="547" cy="687" rx="34" ry="10"/><text x="556" y="689">Human334</text></g>
<g id="c49c" class="n"><ellipse cx="563" cy="700" rx="27" ry="10"/><text x="568" y="702">Human477</text></g>
<g id="c49d" class="n"><ellipse cx="511" cy="705" rx="34" ry="10"/><text x="504" y="708">Human336</text></g>
<g id="c49e" class="n"><ellipse cx="560" cy="713" rx="32" ry="10"/><text x="567" y="717">Human479</text></g>
<g id="c49f" class="n"><ellipse cx="510" cy="728" rx="35" ry="10"/><text x="500" y="729">Human338</text></g>
<g id="c49g" class="n"><ellipse cx="528" cy="734" rx="33" ry="10"/><text x="524" y="741">Human339</text></g>
<g id="c49h" class="n"><ellipse cx="550" cy="730" rx="31" ry="10"/><text x="562" y="731">Human340</text></g>
<g id="c50a" class="n"><ellipse cx="648" cy="736" rx="33" ry="9"/><text x="648" y="739">Human438</text></g>
<g id="c50b" class="n"><ellipse cx="674" cy="747" rx="34" ry="10"/><text x="682" y="750">Human451</text></g>
<g id="c50c" class="n"><ellipse cx="629" cy="757" rx="34" ry="10"/><text x="621" y="759">Human450</text></g>
<g id="c50d" class="n"><ellipse cx="654" cy="761" rx="33" ry="9"/><text x="656" y="765">Human449</text></g>
<g id="c50e" class="n"><ellipse cx="676" cy="770" rx="34" ry="10"/><text x="684" y="774">Human418</text></g>
<g id="c50f" class="n"><ellipse cx="638" cy="783" rx="34" ry="10"/><text x="630" y="785">Human447</text></g>
<g id="c50g" class="n"><ellipse cx="662" cy="788" rx="34" ry="9"/><text x="670" y="792">Human419</text></g>
<g id="c51a" class="n"><ellipse cx="469" cy="767" rx="34" ry="9"/><text x="467" y="770">Human420</text></g>
<g id="c51b" class="n"><ellipse cx="497" cy="775" rx="35" ry="10"/><text x="507" y="778">Human482</text></g>
<g id="c51c" class="n"><ellipse cx="451" cy="787" rx="34" ry="10"/><text x="445" y="790">Human365</text></g>
<g id="c51d" class="n"><ellipse cx="505" cy="798" rx="33" ry="10"/><text x="512" y="801">Human478</text></g>
<g id="c51e" class="n"><ellipse cx="458" cy="812" rx="34" ry="9"/><text x="452" y="813">Human463</text></g>
<g id="c51f" class="n"><ellipse cx="484" cy="819" rx="34" ry="9"/><text x="492" y="823">Human475</text></g>
<g id="c52a" class="n"><ellipse cx="790" cy="662" rx="34" ry="9"/><text x="790" y="665">Human705</text></g>
<g id="c52b" class="n"><ellipse cx="821" cy="677" rx="34" ry="10"/><text x="826" y="680">Human706</text></g>
<g id="c52c" class="n"><ellipse cx="770" cy="695" rx="30" ry="10"/><text x="766" y="698">Human467</text></g>
<g id="c52d" class="n"><ellipse cx="808" cy="708" rx="34" ry="10"/><text x="812" y="711">Human466</text></g>
<g id="c52e" class="n"><ellipse cx="779" cy="736" rx="32" ry="9"/><text x="779" y="739">Human394</text></g>
<g id="c53a" class="n"><ellipse cx="922" cy="677" rx="34" ry="9"/><text x="922" y="680">Human582</text></g>
<g id="c53b" class="n"><ellipse cx="901" cy="705" rx="34" ry="10"/><text x="895" y="708">Human276</text></g>
<g id="c53c" class="n"><ellipse cx="949" cy="698" rx="34" ry="10"/><text x="955" y="701">Human357</text></g>
<g id="c53d" class="n"><ellipse cx="927" cy="725" rx="34" ry="10"/><text x="927" y="728">Human561</text></g>
<g id="c54a" class="n"><ellipse cx="1027" cy="700" rx="33" ry="10"/><text x="1027" y="703">Human132</text></g>
<g id="c54b" class="n"><ellipse cx="1067" cy="705" rx="33" ry="10"/><text x="1067" y="708">Human148</text></g>
<g id="c55a" class="n"><ellipse cx="1005" cy="742" rx="33" ry="10"/><text x="1005" y="745">Human308</text></g>
<g id="c55b" class="n"><ellipse cx="1045" cy="747" rx="33" ry="10"/><text x="1045" y="750">Human109</text></g>
<g id="c56a" class="n"><ellipse cx="864" cy="759" rx="34" ry="9"/><text x="857" y="762">Human23</text></g>
<g id="c56b" class="n"><ellipse cx="889" cy="760" rx="34" ry="10"/><text x="897" y="763">Human431</text></g>
<g id="c56c" class="n"><ellipse cx="850" cy="777" rx="35" ry="10"/><text x="843" y="780">Human27</text></g>
<g id="c56d" class="n"><ellipse cx="902" cy="778" rx="35" ry="10"/><text x="909" y="781">Human373</text></g>
<g id="c56e" class="n"><ellipse cx="855" cy="800" rx="35" ry="9"/><text x="846" y="801">Human84</text></g>
<g id="c56f" class="n"><ellipse cx="895" cy="800" rx="35" ry="8"/><text x="904" y="801">Human583</text></g>
<g id="c56g" class="n"><ellipse cx="875" cy="811" rx="33" ry="9"/><text x="875" y="815">Human331</text></g>
<g id="c57a" class="n"><ellipse cx="1004" cy="782" rx="34" ry="10"/><text x="1004" y="785">Human663</text></g>
<g id="c57b" class="n"><ellipse cx="984" cy="810" rx="34" ry="10"/><text x="978" y="813">Human408</text></g>
<g id="c57c" class="n"><ellipse cx="1033" cy="804" rx="34" ry="9"/><text x="1040" y="807">Human409</text></g>
<g id="c57d" class="n"><ellipse cx="1012" cy="829" rx="35" ry="9"/><text x="1012" y="832">Human661</text></g>
<g id="c58a" class="n"><ellipse cx="996" cy="532" rx="34" ry="9"/><text x="996" y="535">Human651</text></g>
<g id="c58b" class="n"><ellipse cx="974" cy="560" rx="34" ry="10"/><text x="968" y="563">Human381</text></g>
<g id="c58c" class="n"><ellipse cx="1022" cy="553" rx="35" ry="10"/><text x="1028" y="556">Human185</text></g>
<g id="c58d" class="n"><ellipse cx="1002" cy="580" rx="35" ry="10"/><text x="1002" y="583">Human199</text></g>
<g id="c59a" class="n"><ellipse cx="864" cy="581" rx="34" ry="9"/><text x="857" y="584">Human410</text></g>
<g id="c59b" class="n"><ellipse cx="889" cy="582" rx="34" ry="10"/><text x="898" y="585">Human317</text></g>
<g id="c59c" class="n"><ellipse cx="850" cy="600" rx="35" ry="10"/><text x="842" y="603">Human411</text></g>
<g id="c59d" class="n"><ellipse cx="902" cy="600" rx="35" ry="10"/><text x="910" y="603">Human412</text></g>
<g id="c59e" class="n"><ellipse cx="855" cy="622" rx="35" ry="10"/><text x="846" y="623">Human606</text></g>
<g id="c59f" class="n"><ellipse cx="897" cy="622" rx="34" ry="10"/><text x="906" y="623">Human607</text></g>
<g id="c59g" class="n"><ellipse cx="875" cy="632" rx="35" ry="10"/><text x="875" y="637">Human414</text></g>
<g id="c60a" class="n"><ellipse cx="996" cy="608" rx="34" ry="10"/><text x="988" y="611">Human590</text></g>
<g id="c60b" class="n"><ellipse cx="1024" cy="610" rx="34" ry="10"/><text x="1033" y="613">Human591</text></g>
<g id="c60c" class="n"><ellipse cx="984" cy="635" rx="34" ry="10"/><text x="978" y="638">Human441</text></g>
<g id="c60d" class="n"><ellipse cx="1033" cy="638" rx="33" ry="10"/><text x="1039" y="641">Human444</text></g>
<g id="c60e" class="n"><ellipse cx="1006" cy="653" rx="34" ry="10"/><text x="1006" y="656">Human432</text></g>
<g id="c61a" class="n"><ellipse cx="869" cy="497" rx="34" ry="9"/><text x="864" y="500">Human498</text></g>
<g id="c61b" class="n"><ellipse cx="896" cy="507" rx="34" ry="10"/><text x="904" y="510">Human670</text></g>
<g id="c61c" class="n"><ellipse cx="850" cy="519" rx="35" ry="9"/><text x="843" y="522">Human671</text></g>
<g id="c61d" class="n"><ellipse cx="901" cy="531" rx="34" ry="9"/><text x="909" y="534">Human530</text></g>
<g id="c61e" class="n"><ellipse cx="859" cy="542" rx="34" ry="12"/><text x="851" y="543">Human610</text></g>
<g id="c61f" class="n"><ellipse cx="883" cy="550" rx="33" ry="10"/><text x="890" y="555">Human772</text></g>
<g id="c62a" class="n"><ellipse cx="1006" cy="275" rx="34" ry="8"/><text x="1006" y="278">Human422</text></g>
<g id="c62b" class="n"><ellipse cx="986" cy="300" rx="34" ry="10"/><text x="980" y="303">Human479</text></g>
<g id="c62c" class="n"><ellipse cx="1033" cy="295" rx="33" ry="10"/><text x="1039" y="298">Human470</text></g>
<g id="c62d" class="n"><ellipse cx="1012" cy="321" rx="34" ry="9"/><text x="1012" y="324">Human471</text></g>
<g id="c63a" class="n"><ellipse cx="902" cy="339" rx="34" ry="9"/><text x="895" y="342">Human563</text></g>
<g id="c63b" class="n"><ellipse cx="931" cy="342" rx="34" ry="10"/><text x="940" y="345">Human565</text></g>
<g id="c63c" class="n"><ellipse cx="891" cy="365" rx="34" ry="10"/><text x="885" y="368">Human21</text></g>
<g id="c63d" class="n"><ellipse cx="945" cy="370" rx="28" ry="10"/><text x="950" y="373">Human274</text></g>
<g id="c63e" class="n"><ellipse cx="912" cy="383" rx="34" ry="10"/><text x="912" y="386">Human247</text></g>
<g id="c64a" class="n"><ellipse cx="1086" cy="347" rx="31" ry="10"/><text x="1086" y="350">Human52</text></g>
<g id="c64b" class="n"><ellipse cx="1126" cy="352" rx="31" ry="10"/><text x="1126" y="355">Human84</text></g>
<g id="c65a" class="n"><ellipse cx="1019" cy="382" rx="36" ry="10"/><text x="1010" y="385">Human585</text></g>
<g id="c65b" class="n"><ellipse cx="1057" cy="382" rx="34" ry="10"/><text x="1066" y="385">Human586</text></g>
<g id="c65c" class="n"><ellipse cx="1037" cy="414" rx="34" ry="9"/><text x="1037" y="417">Human587</text></g>
<g id="c66a" class="n"><ellipse cx="876" cy="415" rx="34" ry="10"/><text x="868" y="418">Human486</text></g>
<g id="c66b" class="n"><ellipse cx="900" cy="416" rx="33" ry="9"/><text x="908" y="419">Human497</text></g>
<g id="c66c" class="n"><ellipse cx="862" cy="435" rx="35" ry="10"/><text x="855" y="438">Human471</text></g>
<g id="c66d" class="n"><ellipse cx="913" cy="436" rx="32" ry="9"/><text x="920" y="439">Human473</text></g>
<g id="c66e" class="n"><ellipse cx="867" cy="457" rx="36" ry="10"/><text x="858" y="458">Human548</text></g>
<g id="c66f" class="n"><ellipse cx="907" cy="457" rx="34" ry="10"/><text x="916" y="458">Human549</text></g>
<g id="c66g" class="n"><ellipse cx="887" cy="466" rx="33" ry="9"/><text x="887" y="470">Human383</text></g>
<g id="c67a" class="n"><ellipse cx="1006" cy="452" rx="34" ry="9"/><text x="1006" y="455">Human669</text></g>
<g id="c67b" class="n"><ellipse cx="986" cy="477" rx="34" ry="10"/><text x="980" y="480">Human457</text></g>
<g id="c67c" class="n"><ellipse cx="1033" cy="470" rx="33" ry="10"/><text x="1039" y="473">Human118</text></g>
<g id="c67d" class="n"><ellipse cx="1012" cy="497" rx="34" ry="10"/><text x="1012" y="500">Human668</text></g>
<g id="c68a" class="n"><ellipse cx="1086" cy="513" rx="31" ry="10"/><text x="1086" y="516">Human75</text></g>
<g id="c68b" class="n"><ellipse cx="1126" cy="518" rx="31" ry="10"/><text x="1126" y="521">Human76</text></g>
<g id="c69a" class="n"><ellipse cx="625" cy="285" rx="30" ry="10"/><text x="625" y="288">Human452</text></g>
<g id="c69b" class="n"><ellipse cx="612" cy="323" rx="33" ry="10"/><text x="603" y="326">Human409</text></g>
<g id="c69c" class="n"><ellipse cx="648" cy="323" rx="33" ry="10"/><text x="657" y="326">Human410</text></g>
<g id="c69d" class="n"><ellipse cx="621" cy="361" rx="34" ry="9"/><text x="611" y="364">Human406</text></g>
<g id="c69e" class="n"><ellipse cx="644" cy="361" rx="33" ry="9"/><text x="654" y="364">Human407</text></g>
<g id="c69f" class="n"><ellipse cx="607" cy="385" rx="34" ry="10"/><text x="601" y="388">Human775</text></g>
<g id="c69g" class="n"><ellipse cx="658" cy="382" rx="33" ry="10"/><text x="666" y="385">Human771</text></g>
<g id="c69h" class="n"><ellipse cx="636" cy="403" rx="34" ry="10"/><text x="636" y="407">Human772</text></g>
<g id="c69i" class="n"><ellipse cx="627" cy="446" rx="34" ry="9"/><text x="618" y="449">Human711</text></g>
<g id="c69j" class="n"><ellipse cx="654" cy="443" rx="34" ry="10"/><text x="663" y="446">Human717</text></g>
<g id="c69k" class="n"><ellipse cx="621" cy="477" rx="34" ry="9"/><text x="613" y="480">Human309</text></g>
<g id="c69l" class="n"><ellipse cx="667" cy="472" rx="34" ry="10"/><text x="675" y="475">Human310</text></g>
<g id="c69m" class="n"><ellipse cx="647" cy="487" rx="34" ry="9"/><text x="649" y="491">Human312</text></g>
<g id="c70a" class="n"><ellipse cx="492" cy="314" rx="34" ry="9"/><text x="484" y="317">Human460</text></g>
<g id="c70b" class="n"><ellipse cx="523" cy="314" rx="35" ry="9"/><text x="532" y="317">Human407</text></g>
<g id="c70c" class="n"><ellipse cx="482" cy="350" rx="34" ry="10"/><text x="470" y="350">Human428</text></g>
<g id="c70d" class="n"><ellipse cx="504" cy="350" rx="34" ry="10"/><text x="505" y="358">Human429</text></g>
<g id="c70e" class="n"><ellipse cx="528" cy="350" rx="34" ry="10"/><text x="541" y="350">Human461</text></g>
<g id="c70f" class="n"><ellipse cx="502" cy="386" rx="34" ry="9"/><text x="502" y="389">Human478</text></g>
<g id="c70g" class="n"><ellipse cx="482" cy="422" rx="34" ry="10"/><text x="475" y="425">Human413</text></g>
<g id="c70h" class="n"><ellipse cx="521" cy="425" rx="34" ry="10"/><text x="529" y="428">Human414</text></g>
<g id="c71a" class="n"><ellipse cx="770" cy="362" rx="34" ry="9"/><text x="770" y="365">Human393</text></g>
<g id="c71b" class="n"><ellipse cx="741" cy="376" rx="33" ry="10"/><text x="733" y="379">Human295</text></g>
<g id="c71c" class="n"><ellipse cx="790" cy="382" rx="35" ry="10"/><text x="799" y="385">Human797</text></g>
<g id="c71d" class="n"><ellipse cx="765" cy="409" rx="34" ry="9"/><text x="765" y="412">Human796</text></g>
<g id="c71e" class="n"><ellipse cx="733" cy="436" rx="33" ry="10"/><text x="726" y="439">Human594</text></g>
<g id="c71f" class="n"><ellipse cx="782" cy="441" rx="35" ry="10"/><text x="791" y="444">Human391</text></g>
<g id="c71g" class="n"><ellipse cx="757" cy="456" rx="33" ry="9"/><text x="757" y="460">Human772</text></g>
<g id="c72a" class="n"><ellipse cx="188" cy="561" rx="34" ry="9"/><text x="188" y="564">Human380</text></g>
<g id="c72b" class="n"><ellipse cx="167" cy="573" rx="34" ry="10"/><text x="160" y="576">Human487</text></g>
<g id="c72c" class="n"><ellipse cx="211" cy="573" rx="34" ry="10"/><text x="218" y="576">Human645</text></g>
<g id="c72d" class="n"><ellipse cx="168" cy="598" rx="35" ry="10"/><text x="161" y="601">Human38</text></g>
<g id="c72e" class="n"><ellipse cx="212" cy="598" rx="34" ry="10"/><text x="219" y="601">Human378</text></g>
<g id="c72f" class="n"><ellipse cx="189" cy="612" rx="34" ry="9"/><text x="189" y="615">Human279</text></g>
<g id="c73a" class="n"><ellipse cx="60" cy="545" rx="30" ry="10"/><text x="60" y="548">Human39</text></g>
<g id="c73b" class="n"><ellipse cx="99" cy="549" rx="31" ry="10"/><text x="99" y="552">Human34</text></g>
<g id="c74a" class="n"><ellipse cx="50" cy="585" rx="30" ry="10"/><text x="50" y="588">Human1</text></g>
<g id="c74b" class="n"><ellipse cx="89" cy="590" rx="34" ry="10"/><text x="89" y="593">Human177</text></g>
<g id="c75a" class="n"><ellipse cx="126" cy="639" rx="34" ry="10"/><text x="118" y="642">Human136</text></g>
<g id="c75b" class="n"><ellipse cx="165" cy="639" rx="35" ry="10"/><text x="173" y="642">Human417</text></g>
<g id="c75c" class="n"><ellipse cx="146" cy="673" rx="34" ry="10"/><text x="146" y="676">Human138</text></g>
<g id="c76a" class="n"><ellipse cx="312" cy="602" rx="34" ry="10"/><text x="304" y="604">Human395</text></g>
<g id="c76b" class="n"><ellipse cx="339" cy="608" rx="34" ry="10"/><text x="348" y="611">Human654</text></g>
<g id="c76c" class="n"><ellipse cx="293" cy="622" rx="35" ry="10"/><text x="283" y="624">Human396</text></g>
<g id="c76d" class="n"><ellipse cx="319" cy="624" rx="34" ry="9"/><text x="322" y="629">Human397</text></g>
<g id="c76e" class="n"><ellipse cx="346" cy="635" rx="34" ry="10"/><text x="355" y="639">Human317</text></g>
<g id="c76f" class="n"><ellipse cx="302" cy="647" rx="34" ry="10"/><text x="294" y="648">Human21</text></g>
<g id="c76g" class="n"><ellipse cx="327" cy="653" rx="34" ry="10"/><text x="335" y="657">Human438</text></g>
<g id="c77a" class="n"><ellipse cx="94" cy="710" rx="34" ry="10"/><text x="94" y="713">Human155</text></g>
<g id="c77b" class="n"><ellipse cx="134" cy="716" rx="34" ry="11"/><text x="134" y="719">Human159</text></g>
<g id="c78a" class="n"><ellipse cx="231" cy="688" rx="34" ry="9"/><text x="231" y="691">Human329</text></g>
<g id="c78b" class="n"><ellipse cx="210" cy="701" rx="35" ry="11"/><text x="203" y="704">Human611</text></g>
<g id="c78c" class="n"><ellipse cx="252" cy="701" rx="35" ry="11"/><text x="259" y="704">Human610</text></g>
<g id="c78d" class="n"><ellipse cx="211" cy="723" rx="34" ry="10"/><text x="204" y="726">Human328</text></g>
<g id="c78e" class="n"><ellipse cx="253" cy="723" rx="34" ry="10"/><text x="260" y="726">Human327</text></g>
<g id="c78f" class="n"><ellipse cx="233" cy="737" rx="34" ry="9"/><text x="233" y="740">Human326</text></g>
<g id="c79a" class="n"><ellipse cx="345" cy="702" rx="33" ry="9"/><text x="338" y="703">Human411</text></g>
<g id="c79b" class="n"><ellipse cx="375" cy="704" rx="32" ry="10"/><text x="384" y="705">Human417</text></g>
<g id="c79c" class="n"><ellipse cx="343" cy="713" rx="34" ry="10"/><text x="335" y="715">Human412</text></g>
<g id="c79d" class="n"><ellipse cx="336" cy="732" rx="34" ry="10"/><text x="328" y="735">Human413</text></g>
<g id="c79e" class="n"><ellipse cx="388" cy="725" rx="34" ry="10"/><text x="396" y="728">Human410</text></g>
<g id="c79f" class="n"><ellipse cx="346" cy="750" rx="34" ry="10"/><text x="337" y="751">Human414</text></g>
<g id="c79g" class="n"><ellipse cx="383" cy="747" rx="34" ry="10"/><text x="393" y="749">Human416</text></g>
<g id="c79h" class="n"><ellipse cx="365" cy="758" rx="33" ry="10"/><text x="366" y="762">Human415</text></g>
<g id="c80a" class="n"><ellipse cx="148" cy="765" rx="34" ry="10"/><text x="140" y="768">Human459</text></g>
<g id="c80b" class="n"><ellipse cx="175" cy="768" rx="35" ry="10"/><text x="184" y="771">Human460</text></g>
<g id="c80c" class="n"><ellipse cx="136" cy="790" rx="34" ry="10"/><text x="130" y="793">Human45</text></g>
<g id="c80d" class="n"><ellipse cx="184" cy="792" rx="33" ry="9"/><text x="190" y="795">Human457</text></g>
<g id="c80e" class="n"><ellipse cx="157" cy="809" rx="34" ry="9"/><text x="157" y="812">Human458</text></g>
<g id="c81a" class="n"><ellipse cx="270" cy="784" rx="33" ry="9"/><text x="263" y="787">Human367</text></g>
<g id="c81b" class="n"><ellipse cx="300" cy="788" rx="33" ry="9"/><text x="308" y="791">Human74</text></g>
<g id="c81c" class="n"><ellipse cx="262" cy="812" rx="34" ry="10"/><text x="254" y="815">Human97</text></g>
<g id="c81d" class="n"><ellipse cx="305" cy="814" rx="33" ry="11"/><text x="313" y="817">Human174</text></g>
<g id="c81e" class="n"><ellipse cx="280" cy="829" rx="33" ry="9"/><text x="280" y="832">Human179</text></g>
<g id="c82a" class="n"><ellipse cx="73" cy="845" rx="33" ry="10"/><text x="73" y="848">Human625</text></g>
<g id="c82b" class="n"><ellipse cx="113" cy="850" rx="34" ry="10"/><text x="113" y="853">Human635</text></g>
<g id="c83a" class="n"><ellipse cx="73" cy="887" rx="33" ry="10"/><text x="73" y="890">Human634</text></g>
<g id="c83b" class="n"><ellipse cx="113" cy="892" rx="34" ry="10"/><text x="113" y="895">Human636</text></g>
<g id="c84a" class="n"><ellipse cx="199" cy="858" rx="34" ry="10"/><text x="193" y="861">Human366</text></g>
<g id="c84b" class="n"><ellipse cx="228" cy="860" rx="35" ry="10"/><text x="236" y="863">Human367</text></g>
<g id="c84c" class="n"><ellipse cx="188" cy="885" rx="34" ry="10"/><text x="182" y="888">Human35</text></g>
<g id="c84d" class="n"><ellipse cx="238" cy="887" rx="30" ry="10"/><text x="243" y="890">Human360</text></g>
<g id="c84e" class="n"><ellipse cx="209" cy="902" rx="34" ry="10"/><text x="209" y="905">Human361</text></g>
<g id="c85a" class="n"><ellipse cx="364" cy="858" rx="32" ry="9"/><text x="364" y="861">Human563</text></g>
<g id="c85b" class="n"><ellipse cx="346" cy="883" rx="34" ry="10"/><text x="340" y="886">Human37</text></g>
<g id="c85c" class="n"><ellipse cx="395" cy="878" rx="33" ry="10"/><text x="401" y="881">Human443</text></g>
<g id="c85d" class="n"><ellipse cx="372" cy="902" rx="33" ry="10"/><text x="372" y="905">Human362</text></g>
<g id="c86a" class="n"><ellipse cx="126" cy="931" rx="34" ry="11"/><text x="118" y="934">Human174</text></g>
<g id="c86b" class="n"><ellipse cx="165" cy="931" rx="35" ry="11"/><text x="173" y="934">Human475</text></g>
<g id="c86c" class="n"><ellipse cx="145" cy="965" rx="35" ry="10"/><text x="145" y="968">Human476</text></g>
<g id="c87a" class="n"><ellipse cx="242" cy="931" rx="35" ry="11"/><text x="234" y="934">Human583</text></g>
<g id="c87b" class="n"><ellipse cx="281" cy="931" rx="34" ry="11"/><text x="289" y="934">Human584</text></g>
<g id="c87c" class="n"><ellipse cx="261" cy="965" rx="34" ry="10"/><text x="261" y="968">Human585</text></g>
<g id="c88a" class="n"><ellipse cx="356" cy="931" rx="34" ry="11"/><text x="348" y="934">Human588</text></g>
<g id="c88b" class="n"><ellipse cx="394" cy="931" rx="34" ry="11"/><text x="402" y="934">Human589</text></g>
<g id="c88c" class="n"><ellipse cx="375" cy="965" rx="34" ry="10"/><text x="375" y="968">Human590</text></g>
<g id="c89a" class="n"><ellipse cx="84" cy="1002" rx="34" ry="10"/><text x="84" y="1005">Human692</text></g>
<g id="c89b" class="n"><ellipse cx="123" cy="1006" rx="34" ry="11"/><text x="125" y="1009">Human393</text></g>
<g id="c90a" class="n"><ellipse cx="199" cy="1000" rx="34" ry="10"/><text x="199" y="1003">Human430</text></g>
<g id="c90b" class="n"><ellipse cx="238" cy="1006" rx="34" ry="11"/><text x="240" y="1009">Human431</text></g>
<g id="c91a" class="n"><ellipse cx="313" cy="1000" rx="33" ry="10"/><text x="313" y="1003">Human415</text></g>
<g id="c91b" class="n"><ellipse cx="353" cy="1006" rx="35" ry="11"/><text x="355" y="1009">Human411</text></g>
<g id="c92a" class="n"><ellipse cx="38" cy="1043" rx="30" ry="10"/><text x="38" y="1046">Human92</text></g>
<g id="c92b" class="n"><ellipse cx="79" cy="1047" rx="31" ry="11"/><text x="81" y="1050">Human93</text></g>
<g id="c93a" class="n"><ellipse cx="491" cy="875" rx="34" ry="10"/><text x="491" y="878">Human618</text></g>
<g id="c93b" class="n"><ellipse cx="469" cy="902" rx="34" ry="10"/><text x="463" y="905">Human363</text></g>
<g id="c93c" class="n"><ellipse cx="518" cy="895" rx="34" ry="10"/><text x="524" y="898">Human187</text></g>
<g id="c93d" class="n"><ellipse cx="497" cy="922" rx="34" ry="10"/><text x="497" y="925">Human614</text></g>
<g id="c94a" class="n"><ellipse cx="587" cy="815" rx="34" ry="10"/><text x="579" y="818">Human300</text></g>
<g id="c94b" class="n"><ellipse cx="616" cy="818" rx="34" ry="10"/><text x="624" y="821">Human241</text></g>
<g id="c94c" class="n"><ellipse cx="576" cy="842" rx="34" ry="10"/><text x="570" y="845">Human24</text></g>
<g id="c94d" class="n"><ellipse cx="630" cy="845" rx="28" ry="10"/><text x="635" y="848">Human213</text></g>
<g id="c94e" class="n"><ellipse cx="597" cy="860" rx="34" ry="10"/><text x="597" y="863">Human243</text></g>
<g id="c95a" class="n"><ellipse cx="712" cy="815" rx="34" ry="10"/><text x="704" y="818">Human702</text></g>
<g id="c95b" class="n"><ellipse cx="742" cy="818" rx="33" ry="10"/><text x="750" y="821">Human299</text></g>
<g id="c95c" class="n"><ellipse cx="701" cy="842" rx="34" ry="10"/><text x="695" y="845">Human25</text></g>
<g id="c95d" class="n"><ellipse cx="748" cy="845" rx="28" ry="10"/><text x="753" y="848">Human298</text></g>
<g id="c95e" class="n"><ellipse cx="722" cy="860" rx="34" ry="10"/><text x="722" y="863">Human303</text></g>
<g id="c96a" class="n"><ellipse cx="617" cy="896" rx="34" ry="9"/><text x="617" y="899">Human656</text></g>
<g id="c96b" class="n"><ellipse cx="596" cy="923" rx="34" ry="10"/><text x="590" y="926">Human157</text></g>
<g id="c96c" class="n"><ellipse cx="644" cy="917" rx="34" ry="10"/><text x="650" y="920">Human797</text></g>
<g id="c96d" class="n"><ellipse cx="622" cy="943" rx="34" ry="10"/><text x="622" y="946">Human651</text></g>
<g id="c97a" class="n"><ellipse cx="732" cy="898" rx="34" ry="10"/><text x="724" y="901">Human692</text></g>
<g id="c97b" class="n"><ellipse cx="762" cy="902" rx="33" ry="10"/><text x="770" y="905">Human613</text></g>
<g id="c97c" class="n"><ellipse cx="722" cy="925" rx="34" ry="10"/><text x="716" y="928">Human691</text></g>
<g id="c97d" class="n"><ellipse cx="770" cy="925" rx="33" ry="10"/><text x="776" y="928">Human605</text></g>
<g id="c97e" class="n"><ellipse cx="742" cy="943" rx="34" ry="10"/><text x="742" y="946">Human402</text></g>
<g id="c98a" class="n"><ellipse cx="471" cy="960" rx="34" ry="10"/><text x="471" y="963">Human116</text></g>
<g id="c98b" class="n"><ellipse cx="511" cy="965" rx="34" ry="10"/><text x="513" y="968">Human128</text></g>
<g id="c99a" class="n"><ellipse cx="586" cy="980" rx="34" ry="10"/><text x="586" y="983">Human318</text></g>
<g id="c99b" class="n"><ellipse cx="626" cy="985" rx="34" ry="10"/><text x="628" y="988">Human320</text></g>
<g id="c100a" class="n"><ellipse cx="701" cy="980" rx="34" ry="10"/><text x="701" y="983">Human265</text></g>
<g id="c100b" class="n"><ellipse cx="741" cy="985" rx="34" ry="10"/><text x="743" y="988">Human147</text></g>
<g id="c101a" class="n"><ellipse cx="429" cy="1000" rx="34" ry="10"/><text x="429" y="1003">Human37</text></g>
<g id="c101b" class="n"><ellipse cx="469" cy="1006" rx="34" ry="11"/><text x="471" y="1009">Human181</text></g>
<g id="c102a" class="n"><ellipse cx="565" cy="1022" rx="33" ry="10"/><text x="565" y="1025">Human67</text></g>
<g id="c102b" class="n"><ellipse cx="604" cy="1027" rx="34" ry="10"/><text x="606" y="1030">Human618</text></g>
<g id="c103a" class="n"><ellipse cx="677" cy="1022" rx="31" ry="10"/><text x="677" y="1025">Human43</text></g>
<g id="c103b" class="n"><ellipse cx="720" cy="1027" rx="35" ry="10"/><text x="722" y="1030">Human417</text></g>
<g id="c104a" class="n"><ellipse cx="836" cy="837" rx="34" ry="10"/><text x="828" y="840">Human648</text></g>
<g id="c104b" class="n"><ellipse cx="867" cy="838" rx="34" ry="10"/><text x="875" y="841">Human493</text></g>
<g id="c104c" class="n"><ellipse cx="827" cy="864" rx="34" ry="9"/><text x="821" y="867">Human366</text></g>
<g id="c104d" class="n"><ellipse cx="875" cy="867" rx="32" ry="10"/><text x="881" y="870">Human367</text></g>
<g id="c104e" class="n"><ellipse cx="849" cy="882" rx="34" ry="10"/><text x="849" y="885">Human305</text></g>
<g id="c105a" class="n"><ellipse cx="974" cy="866" rx="34" ry="9"/><text x="974" y="869">Human515</text></g>
<g id="c105b" class="n"><ellipse cx="952" cy="893" rx="34" ry="10"/><text x="946" y="896">Human153</text></g>
<g id="c105c" class="n"><ellipse cx="1001" cy="886" rx="34" ry="9"/><text x="1007" y="889">Human531</text></g>
<g id="c105d" class="n"><ellipse cx="979" cy="913" rx="34" ry="10"/><text x="979" y="916">Human331</text></g>
<g id="c106a" class="n"><ellipse cx="1075" cy="867" rx="30" ry="10"/><text x="1075" y="870">Human16</text></g>
<g id="c106b" class="n"><ellipse cx="1114" cy="872" rx="31" ry="10"/><text x="1116" y="875">Human38</text></g>
<g id="c107a" class="n"><ellipse cx="1075" cy="908" rx="30" ry="10"/><text x="1075" y="911">Human37</text></g>
<g id="c107b" class="n"><ellipse cx="1114" cy="912" rx="31" ry="10"/><text x="1116" y="915">Human28</text></g>
<g id="c108a" class="n"><ellipse cx="869" cy="917" rx="34" ry="9"/><text x="869" y="920">Human693</text></g>
<g id="c108b" class="n"><ellipse cx="848" cy="945" rx="35" ry="10"/><text x="842" y="948">Human461</text></g>
<g id="c108c" class="n"><ellipse cx="895" cy="938" rx="33" ry="10"/><text x="901" y="941">Human462</text></g>
<g id="c108d" class="n"><ellipse cx="874" cy="965" rx="34" ry="10"/><text x="874" y="968">Human694</text></g>
<g id="c109a" class="n"><ellipse cx="974" cy="942" rx="36" ry="10"/><text x="966" y="945">Human400</text></g>
<g id="c109b" class="n"><ellipse cx="1012" cy="942" rx="35" ry="10"/><text x="1020" y="945">Human401</text></g>
<g id="c109c" class="n"><ellipse cx="993" cy="975" rx="35" ry="10"/><text x="993" y="978">Human744</text></g>
<g id="c110a" class="n"><ellipse cx="1085" cy="970" rx="30" ry="10"/><text x="1085" y="973">Human79</text></g>
<g id="c110b" class="n"><ellipse cx="1124" cy="977" rx="34" ry="10"/><text x="1126" y="980">Human159</text></g>
<g id="c111a" class="n"><ellipse cx="816" cy="1000" rx="33" ry="10"/><text x="816" y="1003">Human300</text></g>
<g id="c111b" class="n"><ellipse cx="857" cy="1005" rx="33" ry="10"/><text x="859" y="1008">Human261</text></g>
<g id="c112a" class="n"><ellipse cx="931" cy="1012" rx="34" ry="10"/><text x="931" y="1015">Human562</text></g>
<g id="c112b" class="n"><ellipse cx="971" cy="1017" rx="34" ry="10"/><text x="973" y="1020">Human563</text></g>
<g id="c113a" class="n"><ellipse cx="1047" cy="1012" rx="33" ry="10"/><text x="1047" y="1015">Human345</text></g>
<g id="c113b" class="n"><ellipse cx="1087" cy="1017" rx="33" ry="10"/><text x="1089" y="1020">Human476</text></g>
<g id="c114a" class="n"><ellipse cx="795" cy="1041" rx="30" ry="10"/><text x="795" y="1044">Human26</text></g>
<g id="c114b" class="n"><ellipse cx="832" cy="1046" rx="31" ry="11"/><text x="834" y="1049">Human78</text></g>
</g>
<g id="highlights">
<ellipse class="ring" cx="285" cy="199" rx="63" ry="41"/>
<ellipse class="ring" cx="414" cy="199" rx="63" ry="42"/>
<ellipse class="ring" cx="275" cy="281" rx="62" ry="49"/>
<ellipse class="ring" cx="396" cy="298" rx="56" ry="53"/>
<ellipse class="ring" cx="792" cy="298" rx="61" ry="54"/>
<ellipse class="ring" cx="899" cy="228" rx="71" ry="43"/>
<text class="num" x="243" y="174">2</text>
<text class="num" x="488" y="182">3</text>
<text class="num" x="776" y="248">1</text>
<text class="num" x="895" y="194">6</text>
<text class="num" x="225" y="342">4</text>
<text class="num" x="481" y="303">5</text>
</g>
</svg>
